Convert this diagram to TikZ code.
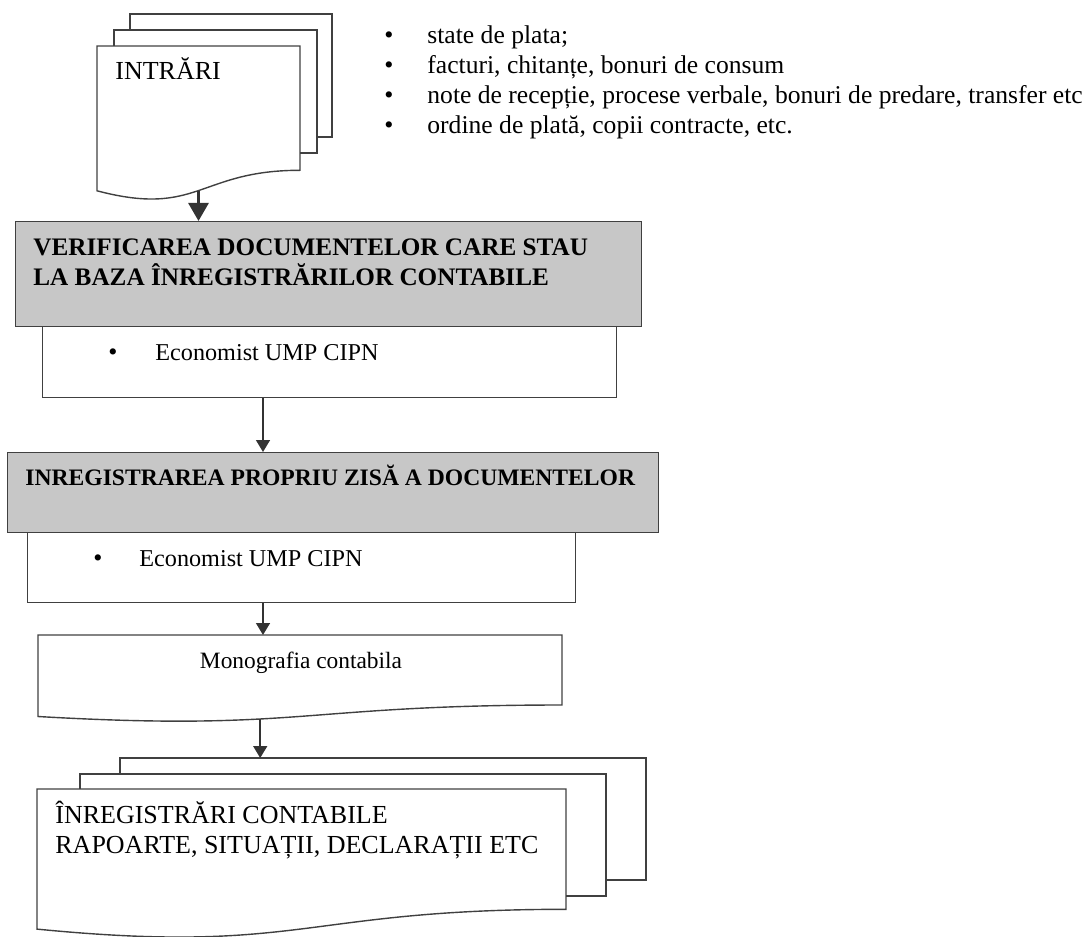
\documentclass[tikz,border=0pt]{standalone}
\usepackage{fontspec}
\setmainfont{Liberation Serif}
\usetikzlibrary{arrows.meta,positioning,calc}

\begin{document}
\begin{tikzpicture}[x=0.5pt, y=-0.5pt, font=\fontsize{13}{15}\selectfont]
    \tikzset{frame/.style={draw=black!75, line width=0.7pt}}
    \tikzset{graybox/.style={frame, fill=black!22, inner sep=0pt, anchor=north west}}
    \tikzset{whitebox/.style={frame, fill=white, inner sep=0pt, anchor=north west}}
    \tikzset{txt/.style={anchor=base west, inner sep=0pt}}
    \tikzset{bold/.style={txt, font=\fontsize{12.6}{15}\selectfont\bfseries}}
    \tikzset{listtxt/.style={txt, font=\fontsize{12.8}{15}\selectfont}}
    \tikzset{small/.style={font=\fontsize{12.1}{15}\selectfont}}
    \tikzset{dot/.style={anchor=base, inner sep=0pt}}
    \tikzset{arrow/.style={-{Triangle[length=6pt,width=7pt]}, line width=0.75pt, black!80}}
    \tikzset{bigarrow/.style={-{Triangle[length=9pt,width=10pt]}, line width=1.4pt, black!80}}

    \useasboundingbox (0,0) rectangle (1085,936);

    % Input documents
    \draw[frame] (130,30) -- (130,14) -- (332,14) -- (332,137) -- (317,137);
    \draw[frame] (114,46) -- (114,30) -- (317,30) -- (317,153) -- (300,153);
    \draw[frame] (97,46) -- (300,46) -- (300,170.3)
        .. controls (198.5,170.3) and (198.5,217.6) .. (97,190.8) -- cycle;
    \coordinate (inbot) at (198.5,190.6);
    \node[txt] (intrari) at (115,80) {INTRĂRI};

    % List of documents
    \node[listtxt] (doc1) at (427,44) {state de plata;};
    \node[listtxt] (doc2) at (427,74) {facturi, chitanțe, bonuri de consum};
    \node[listtxt] (doc3) at (427,104) {note de recepție, procese verbale, bonuri de predare, transfer etc};
    \node[listtxt] (doc4) at (427,134) {ordine de plată, copii contracte, etc.};
    \node[dot] (dot1) at (389,44) {•};
    \node[dot] (dot2) at (389,74) {•};
    \node[dot] (dot3) at (389,104) {•};
    \node[dot] (dot4) at (389,134) {•};

    % Verification
    \node[graybox, minimum width=313pt, minimum height=52.5pt] (verif) at (15,221) {};
    \node[bold] (verif1) at (33,255) {VERIFICAREA DOCUMENTELOR CARE STAU};
    \node[bold] (verif2) at (33,285) {LA BAZA ÎNREGISTRĂRILOR CONTABILE};
    \node[whitebox, minimum width=287pt, minimum height=35.5pt] (econA) at (42,326) {};
    \node[dot] (bulA) at (113,360) {•};
    \node[txt, small] (econAt) at (155,360) {Economist UMP CIPN};

    % Recording
    \node[graybox, minimum width=325.5pt, minimum height=40pt] (inreg) at (7,452) {};
    \node[bold, font=\fontsize{11.8}{15}\selectfont\bfseries] (inregt) at (25,485) {INREGISTRAREA PROPRIU ZISĂ A DOCUMENTELOR};
    \node[whitebox, minimum width=274pt, minimum height=35pt] (econB) at (27,532) {};
    \node[dot] (bulB) at (98,566) {•};
    \node[txt, small] (econBt) at (139,566) {Economist UMP CIPN};

    % Monograph
    \draw[frame] (38,635) -- (562,635) -- (562,705)
        .. controls (300,705) and (300,731.6) .. (38,716.5) -- cycle;
    \coordinate (monotop) at (263,635);
    \coordinate (monobot) at (260.2,719);
    \node[dot, font=\fontsize{11.7}{15}\selectfont] (mono) at (301,668) {Monografia contabila};

    % Output documents
    \draw[frame] (120,774) -- (120,758) -- (646,758) -- (646,880) -- (606,880);
    \draw[frame] (80,789) -- (80,774) -- (606,774) -- (606,896) -- (566,896);
    \draw[frame] (37,789) -- (566,789) -- (566,909.3)
        .. controls (301.5,909.3) and (301.5,955) .. (37,929.1) -- cycle;
    \coordinate (outtop) at (260.2,758);
    \node[txt] (out1) at (55,823) {ÎNREGISTRĂRI CONTABILE};
    \node[txt] (out2) at (55,853) {RAPOARTE, SITUAȚII, DECLARAȚII ETC};

    % Arrows
    \draw[bigarrow] (inbot) -- (inbot |- verif.north);
    \draw[arrow] (monotop |- econA.south) -- (monotop |- inreg.north);
    \draw[arrow] (monotop |- econB.south) -- (monotop);
    \draw[arrow] (monobot) -- (outtop);
\end{tikzpicture}
\end{document}
